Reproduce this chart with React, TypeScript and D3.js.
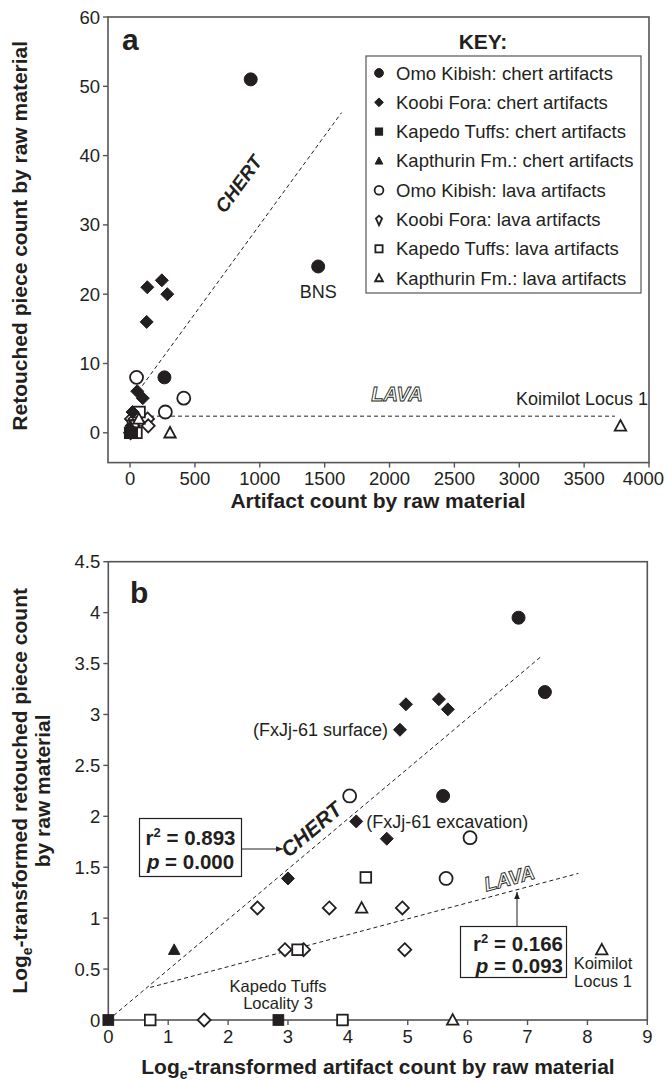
import * as d3 from "d3"

const FONT = "'Liberation Sans', Arial, Helvetica, sans-serif"
const INK = "#231f20"
const FRAME = "#555"

// legend / series definitions
const seriesNames = [
  "Omo Kibish: chert artifacts",
  "Koobi Fora: chert artifacts",
  "Kapedo Tuffs: chert artifacts",
  "Kapthurin Fm.: chert artifacts",
  "Omo Kibish: lava artifacts",
  "Koobi Fora: lava artifacts",
  "Kapedo Tuffs: lava artifacts",
  "Kapthurin Fm.: lava artifacts",
]
const seriesShape = ["circle", "diamond", "square", "triangle", "circle", "diamond", "square", "triangle"]
const seriesFilled = [true, true, true, true, false, false, false, false]

// panel a: [artifact count, retouched count]
const rawOmoChert = [[930, 51], [1450, 24], [265, 8]]
const rawKoobiChert = [[133, 21], [245, 22], [287, 20], [128, 16], [55, 6], [98, 5], [19, 3]]
const rawKapedoChert = [[0, 0], [16, 0]]
const rawKapthurinChert = [[2, 1]]
const rawOmoLava = [[50, 8], [414, 5], [272, 3]]
const rawKoobiLava = [[11, 2], [39, 2], [135, 2], [140, 1], [18, 1], [25, 1], [4, 0]]
const rawKapedoLava = [[73, 3], [23, 1], [1, 0], [49, 0]]
const rawKapthurinLava = [[68, 2], [3780, 1], [308, 0]]
const rawSeries = [rawOmoChert, rawKoobiChert, rawKapedoChert, rawKapthurinChert,
  rawOmoLava, rawKoobiLava, rawKapedoLava, rawKapthurinLava]

// panel b: log-transformed values
const logOmoChert = [[6.85, 3.95], [7.29, 3.22], [5.59, 2.2]]
const logKoobiChert = [[4.97, 3.1], [5.52, 3.15], [5.67, 3.05], [4.87, 2.85], [4.14, 1.95], [4.65, 1.78], [3.0, 1.39]]
const logKapedoChert = [[0, 0], [2.84, 0]]
const logKapthurinChert = [[1.1, 0.69]]
const logOmoLava = [[4.03, 2.2], [6.04, 1.79], [5.64, 1.39]]
const logKoobiLava = [[2.49, 1.1], [3.69, 1.1], [4.91, 1.1], [4.95, 0.69], [2.95, 0.69], [3.26, 0.69], [1.6, 0]]
const logKapedoLava = [[4.3, 1.4], [3.16, 0.69], [0.7, 0], [3.91, 0]]
const logKapthurinLava = [[4.23, 1.1], [8.24, 0.69], [5.75, 0]]
const logSeries = [logOmoChert, logKoobiChert, logKapedoChert, logKapthurinChert,
  logOmoLava, logKoobiLava, logKapedoLava, logKapthurinLava]

// fitted trend lines (end points)
const aChertFit = [[95, 6.8], [1630, 46.2]]
const aLavaFit = [[154, 2.4], [3737, 2.4]]
const bChertFit = [[0, 0], [7.25, 3.58]]
const bLavaFit = [[0.7, 0.32], [7.85, 1.44]]

const aXTicks = [0, 500, 1000, 1500, 2000, 2500, 3000, 3500, 4000]
const aYTicks = [0, 10, 20, 30, 40, 50, 60]
const bXTicks = [0, 1, 2, 3, 4, 5, 6, 7, 8, 9]
const bYTicks = [0, 0.5, 1, 1.5, 2, 2.5, 3, 3.5, 4, 4.5]

const ax = d3.scaleLinear().domain([-170, 4000]).range([108, 649])
const ay = d3.scaleLinear().domain([-4.3, 60]).range([462.6, 17])
const bx = d3.scaleLinear().domain([0, 9]).range([108.3, 647.3])
const by = d3.scaleLinear().domain([0, 4.5]).range([1020, 561.7])

function Marker({ shape, filled, x, y, s, kite }: any) {
  const fill = filled ? INK : "#fff"
  const sw = filled ? 1 : 1.8
  if (shape === "circle")
    return <circle cx={x} cy={y} r={s} fill={fill} stroke={INK} strokeWidth={sw} />
  if (shape === "square")
    return <rect x={x - s * 0.82} y={y - s * 0.82} width={s * 1.64} height={s * 1.64} fill={fill} stroke={INK} strokeWidth={sw} />
  let d = ""
  if (shape === "diamond") {
    d = kite
      ? `M0,${s * 1.3}L${-s * 0.7},${-s * 0.25}L0,${-s * 0.85}L${s * 0.7},${-s * 0.25}Z`
      : `M0,${-s}L${s},0L0,${s}L${-s},0Z`
  } else {
    d = `M0,${-s * 0.9}L${s * 0.88},${s * 0.72}L${-s * 0.88},${s * 0.72}Z`
  }
  return <path d={d} transform={`translate(${x},${y})`} fill={fill} stroke={INK} strokeWidth={sw} strokeLinejoin="miter" />
}

const line = (xs: any, ys: any) => d3.line<number[]>().x(d => xs(d[0])).y(d => ys(d[1]))
const angleOf = (fit: number[][], xs: any, ys: any) =>
  Math.atan2(ys(fit[1][1]) - ys(fit[0][1]), xs(fit[1][0]) - xs(fit[0][0])) * 180 / Math.PI

export default function App() {
  const aLine = line(ax, ay)
  const bLine = line(bx, by)
  const tickFont = { fontFamily: FONT, fontSize: 18.5, fill: INK }
  const annot = { fontFamily: FONT, fontSize: 18, fill: INK }
  const annot2 = { fontFamily: FONT, fontSize: 16.5, fill: INK }
  const title = { fontFamily: FONT, fontWeight: "bold", fontSize: 21, fill: INK } as any
  const [ax0, ax1] = ax.range()
  const [ay0, ay1] = ay.range()
  const [bx0, bx1] = bx.range()
  const [by0, by1] = by.range()

  const chertAngleA = angleOf(aChertFit, ax, ay)
  const chertAngleB = angleOf(bChertFit, bx, by)
  const lavaAngleB = angleOf(bLavaFit, bx, by)

  return (
    <svg width={665} height={1082} style={{ position: "absolute", left: 0, top: 0, background: "#fff" }}>
      <defs>
        <marker id="arr" viewBox="0 0 10 10" refX={10} refY={5} markerWidth={7} markerHeight={7} orient="auto">
          <path d="M0,1L10,5L0,9Z" fill={INK} />
        </marker>
      </defs>

      {/* ---------- panel a ---------- */}
      <g>
        <rect x={ax0} y={ay1} width={ax1 - ax0} height={ay0 - ay1} fill="none" stroke={FRAME} strokeWidth={1.6} />
        {aYTicks.map(t => (
          <g key={t}>
            <line x1={ax0 - 5} x2={ax0} y1={ay(t)} y2={ay(t)} stroke={FRAME} strokeWidth={1.4} />
            <text x={ax0 - 8} y={ay(t) + 6.5} textAnchor="end" style={tickFont}>{t}</text>
          </g>
        ))}
        {aXTicks.map(t => {
          // keep the last label inside the picture, as the original does
          const over = ax(t) + 21 > 664
          return (
            <g key={t}>
              <line x1={ax(t)} x2={ax(t)} y1={ay0} y2={ay0 + 5} stroke={FRAME} strokeWidth={1.4} />
              <text x={over ? 664 : ax(t)} y={ay0 + 22} textAnchor={over ? "end" : "middle"} style={tickFont}>{t}</text>
            </g>
          )
        })}
        <text x={378} y={508} textAnchor="middle" style={title}>Artifact count by raw material</text>
        <text transform={`translate(27,${(ay0 + ay1) / 2 - 4}) rotate(-90)`} textAnchor="middle" style={title}>
          Retouched piece count by raw material
        </text>
        <text x={122} y={50} fontFamily={FONT} fontWeight="bold" fontSize={30} fill={INK}>a</text>

        <path d={aLine(aChertFit as any) || ""} fill="none" stroke={INK} strokeWidth={1} strokeDasharray="4,3" />
        <path d={aLine(aLavaFit as any) || ""} fill="none" stroke={INK} strokeWidth={1} strokeDasharray="4,3" />

        {[4, 5, 6, 7, 0, 1, 2, 3].map(i =>
          rawSeries[i].map((p, j) => (
            <Marker key={`a${i}-${j}`} shape={seriesShape[i]} filled={seriesFilled[i]} x={ax(p[0])} y={ay(p[1])} s={6.5} />
          ))
        )}

        <text transform={`translate(244,188) rotate(${chertAngleA})`} textAnchor="middle" fontFamily={FONT} fontWeight="bold" fontStyle="italic" fontSize={19} fill={INK}>CHERT</text>
        <text x={397} y={401} textAnchor="middle" fontFamily={FONT} fontWeight="bold" fontStyle="italic" fontSize={20} fill="#fff" stroke={INK} strokeWidth={0.9}>LAVA</text>
        <text x={ax(1450)} y={ay(24) + 32} textAnchor="middle" style={annot}>BNS</text>
        <text x={ax1 - 1} y={405} textAnchor="end" style={annot}>Koimilot Locus 1</text>

        {/* legend */}
        <text x={483} y={49} textAnchor="middle" style={title} fontSize={20}>KEY:</text>
        <rect x={366} y={56} width={275} height={237} fill="#fff" stroke={FRAME} strokeWidth={1.2} />
        {seriesNames.map((n, i) => (
          <g key={n}>
            <Marker shape={seriesShape[i]} filled={seriesFilled[i]} x={379} y={73 + i * 29.3} s={4.4} kite={i === 5} />
            <text x={396} y={73 + i * 29.3 + 6.5} fontFamily={FONT} fontSize={18.5} fill={INK}>{n}</text>
          </g>
        ))}
      </g>

      {/* ---------- panel b ---------- */}
      <g>
        <rect x={bx0} y={by1} width={bx1 - bx0} height={by0 - by1} fill="none" stroke={FRAME} strokeWidth={1.6} />
        {bYTicks.map(t => (
          <g key={t}>
            <line x1={bx0 - 5} x2={bx0} y1={by(t)} y2={by(t)} stroke={FRAME} strokeWidth={1.4} />
            <text x={bx0 - 8} y={by(t) + 6.5} textAnchor="end" style={tickFont}>{t}</text>
          </g>
        ))}
        {bXTicks.map(t => (
          <g key={t}>
            <line x1={bx(t)} x2={bx(t)} y1={by0} y2={by0 + 5} stroke={FRAME} strokeWidth={1.4} />
            <text x={bx(t)} y={by0 + 23} textAnchor="middle" style={tickFont}>{t}</text>
          </g>
        ))}
        <text x={378} y={1074} textAnchor="middle" style={title}>
          Log<tspan fontSize={14} dy={5}>e</tspan><tspan dy={-5}>-transformed artifact count by raw material</tspan>
        </text>
        <g transform={`translate(0,${(by0 + by1) / 2}) rotate(-90)`}>
          <text x={0} y={27} textAnchor="middle" style={title}>
            Log<tspan fontSize={14} dy={5}>e</tspan><tspan dy={-5}>-transformed retouched piece count</tspan>
          </text>
          <text x={0} y={50} textAnchor="middle" style={title}>by raw material</text>
        </g>
        <text x={130} y={603} fontFamily={FONT} fontWeight="bold" fontSize={30} fill={INK}>b</text>

        <path d={bLine(bChertFit as any) || ""} fill="none" stroke={INK} strokeWidth={1} strokeDasharray="4,3" />
        <path d={bLine(bLavaFit as any) || ""} fill="none" stroke={INK} strokeWidth={1} strokeDasharray="4,3" />

        {[4, 5, 6, 7, 0, 1, 2, 3].map(i =>
          logSeries[i].map((p, j) => (
            <Marker key={`b${i}-${j}`} shape={seriesShape[i]} filled={seriesFilled[i]} x={bx(p[0])} y={by(p[1])} s={6.5} />
          ))
        )}

        <text transform={`translate(316,835) rotate(${chertAngleB})`} textAnchor="middle" fontFamily={FONT} fontWeight="bold" fontStyle="italic" fontSize={21} fill={INK}>CHERT</text>
        <text transform={`translate(511,885) rotate(${lavaAngleB})`} textAnchor="middle" fontFamily={FONT} fontWeight="bold" fontStyle="italic" fontSize={20} fill="#fff" stroke={INK} strokeWidth={0.9}>LAVA</text>

        <text x={bx(4.87) - 12} y={by(2.85) + 6} textAnchor="end" style={annot}>(FxJj-61 surface)</text>
        <text x={bx(4.14) + 10} y={by(1.95) + 6.5} style={annot}>(FxJj-61 excavation)</text>

        <text x={278} y={992} textAnchor="middle" style={annot2}>Kapedo Tuffs</text>
        <text x={278} y={1009} textAnchor="middle" style={annot2}>Locality 3</text>
        <text x={603} y={969} textAnchor="middle" style={annot2}>Koimilot</text>
        <text x={603} y={986.5} textAnchor="middle" style={annot2}>Locus 1</text>

        {/* r2 boxes */}
        <rect x={139.5} y={818.5} width={102} height={58} fill="#fff" stroke={INK} strokeWidth={1.2} />
        <text x={190.5} y={845} textAnchor="middle" fontFamily={FONT} fontWeight="bold" fontSize={20.5} fill={INK}>
          r<tspan fontSize={13} dy={-8}>2</tspan><tspan dy={8}> = 0.893</tspan>
        </text>
        <text x={190.5} y={869} textAnchor="middle" fontFamily={FONT} fontWeight="bold" fontSize={20.5} fill={INK}>
          <tspan fontStyle="italic">p</tspan> = 0.000
        </text>
        <line x1={241.5} x2={283} y1={849} y2={849} stroke={INK} strokeWidth={1} markerEnd="url(#arr)" />

        <rect x={460.5} y={926.5} width={106} height={51} fill="#fff" stroke={INK} strokeWidth={1.2} />
        <text x={563} y={951} textAnchor="end" fontFamily={FONT} fontWeight="bold" fontSize={20.5} fill={INK}>
          r<tspan fontSize={13} dy={-8}>2</tspan><tspan dy={8}> = 0.166</tspan>
        </text>
        <text x={563} y={973} textAnchor="end" fontFamily={FONT} fontWeight="bold" fontSize={20.5} fill={INK}>
          <tspan fontStyle="italic">p</tspan> = 0.093
        </text>
        <line x1={517} x2={517} y1={926.5} y2={892} stroke={INK} strokeWidth={1} markerEnd="url(#arr)" />
      </g>
    </svg>
  )
}
